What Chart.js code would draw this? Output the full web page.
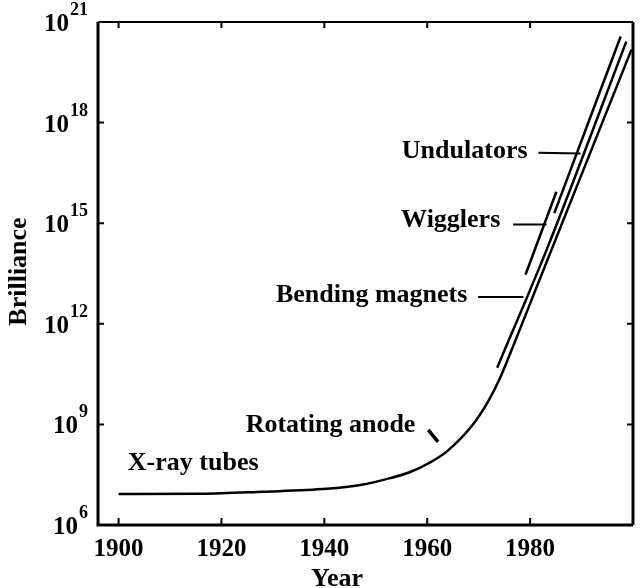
<!DOCTYPE html>
<html>
<head>
<meta charset="utf-8">
<script src="https://cdn.jsdelivr.net/npm/chart.js@4/dist/chart.umd.min.js"></script>
<style>
  html, body { margin: 0; padding: 0; background: #fff; }
  #wrap { width: 640px; height: 588px; position: relative; }
</style>
</head>
<body>
<div id="wrap"><canvas id="chart"></canvas></div>
<script>
// ===============================
// DATA
// ===============================
const xTicks = [1900, 1920, 1940, 1960, 1980];
const yTickValues = [1e6, 1e9, 1e12, 1e15, 1e18, 1e21];
const yTickExps = ['6', '9', '12', '15', '18', '21'];

// x-ray tubes -> rotating anode -> synchrotron curve
const mainYears = [1900, 1916, 1928, 1940.4, 1947, 1952.8, 1956.7, 1960, 1963.9, 1969, 1971.9, 1974.2, 1976.5, 1981, 1999.7];
const mainBrill = [8.4e6, 8.5e6, 9.8e6, 1.2e7, 1.56e7, 2.5e7, 3.8e7, 6.6e7, 1.6e8, 1.04e9, 5e9, 2.5e10, 1.8e11, 9.8e12, 1.5e20];

const bendYears = [1973.6, 1983.2, 1998.7];
const bendBrill = [4.9e10, 1.6e14, 2.6e20];

const wigYears = [1979.1, 1985.1];
const wigBrill = [2.9e13, 8.7e15];

const undYears = [1984.7, 1997.6];
const undBrill = [2e15, 3.7e20];

const anodeYears = [1960.2, 1962.1];
const anodeBrill = [6.9e8, 3e8];

// leader lines from the labels
const undLeaderYears = [1981.6, 1989.8];
const undLeaderBrill = [1.26e17, 1.2e17];
const wigLeaderYears = [1976.7, 1983.2];
const wigLeaderBrill = [9.1e14, 9.1e14];
const bendLeaderYears = [1969.9, 1978.7];
const bendLeaderBrill = [6.3e12, 6.3e12];

// text labels: name, anchor year, anchor brilliance, alignment
const labelNames = ['Undulators', 'Wigglers', 'Bending magnets', 'Rotating anode', 'X-ray tubes'];
const labelYears = [1979.5, 1974.2, 1967.8, 1957.7, 1901.8];
const labelBrill = [1.4e17, 1.26e15, 6.9e12, 9.1e8, 7.1e7];
const labelAlign = ['right', 'right', 'right', 'right', 'left'];

const FONT = '"Liberation Serif", "Times New Roman", serif';

function pts(xs, ys) {
    return xs.map((x, i) => ({ x: x, y: ys[i] }));
}

function lineSet(xs, ys, width, smooth) {
    return {
        data: pts(xs, ys),
        showLine: true,
        borderColor: '#000',
        borderWidth: width,
        pointRadius: 0,
        cubicInterpolationMode: smooth ? 'monotone' : 'default',
        tension: 0,
        borderCapStyle: 'butt'
    };
}

// ===============================
// FRAME, TICKS AND TEXT
// ===============================
const framePlugin = {
    id: 'frame',
    afterDraw(chart) {
        const ctx = chart.ctx;
        const a = chart.chartArea;
        const xs = chart.scales.x;
        const ys = chart.scales.y;

        ctx.save();
        ctx.strokeStyle = '#000';
        ctx.fillStyle = '#000';

        // box
        ctx.lineWidth = 3;
        ctx.beginPath();
        ctx.moveTo(a.left, a.top);
        ctx.lineTo(a.left, a.bottom);
        ctx.lineTo(a.right, a.bottom);
        ctx.stroke();
        ctx.lineWidth = 2;
        ctx.beginPath();
        ctx.moveTo(a.left, a.top);
        ctx.lineTo(a.right, a.top);
        ctx.stroke();
        ctx.lineWidth = 3;
        ctx.beginPath();
        ctx.moveTo(a.right, a.top);
        ctx.lineTo(a.right, a.bottom);
        ctx.stroke();

        // inward ticks
        ctx.lineWidth = 2;
        xTicks.forEach(v => {
            const px = xs.getPixelForValue(v);
            ctx.beginPath();
            ctx.moveTo(px, a.bottom);
            ctx.lineTo(px, a.bottom - 7);
            ctx.moveTo(px, a.top);
            ctx.lineTo(px, a.top + 6);
            ctx.stroke();
        });
        yTickValues.slice(1, -1).forEach(v => {
            const py = ys.getPixelForValue(v);
            ctx.beginPath();
            ctx.moveTo(a.left, py);
            ctx.lineTo(a.left + 6, py);
            ctx.moveTo(a.right, py);
            ctx.lineTo(a.right - 6, py);
            ctx.stroke();
        });

        // x tick labels
        ctx.font = 'bold 25px ' + FONT;
        ctx.textAlign = 'center';
        ctx.textBaseline = 'alphabetic';
        xTicks.forEach(v => {
            ctx.fillText(String(v), xs.getPixelForValue(v), a.bottom + 31);
        });

        // y tick labels 10^n
        yTickValues.forEach((v, i) => {
            const py = ys.getPixelForValue(v);
            const right = a.left - 10;
            ctx.font = 'bold 18px ' + FONT;
            ctx.textAlign = 'right';
            ctx.fillText(yTickExps[i], right, py - 7);
            const w = ctx.measureText(yTickExps[i]).width;
            ctx.font = 'bold 25px ' + FONT;
            ctx.fillText('10', right - w - 1, py + 9);
        });

        // axis titles
        ctx.font = 'bold 26px ' + FONT;
        ctx.textAlign = 'center';
        ctx.fillText('Year', 337, a.bottom + 61);
        ctx.save();
        ctx.translate(26, (a.top + a.bottom) / 2 - 2);
        ctx.rotate(-Math.PI / 2);
        ctx.fillText('Brilliance', 0, 0);
        ctx.restore();

        // curve labels
        ctx.font = 'bold 26px ' + FONT;
        ctx.textBaseline = 'middle';
        labelNames.forEach((name, i) => {
            ctx.textAlign = labelAlign[i];
            ctx.fillText(name, xs.getPixelForValue(labelYears[i]), ys.getPixelForValue(labelBrill[i]));
        });

        ctx.restore();
    }
};

// ===============================
// INIT CHART
// ===============================
function initChart() {
    const ctx = document.getElementById('chart').getContext('2d');

    new Chart(ctx, {
        type: 'scatter',
        data: {
            datasets: [
                lineSet(mainYears, mainBrill, 2.5, true),
                lineSet(bendYears, bendBrill, 2.5, true),
                lineSet(wigYears, wigBrill, 2.5),
                lineSet(undYears, undBrill, 2.5),
                lineSet(anodeYears, anodeBrill, 3.5),
                lineSet(undLeaderYears, undLeaderBrill, 2),
                lineSet(wigLeaderYears, wigLeaderBrill, 2),
                lineSet(bendLeaderYears, bendLeaderBrill, 2)
            ]
        },
        options: {
            responsive: true,
            maintainAspectRatio: false,
            animation: false,
            layout: {
                padding: { left: 98, top: 22, right: 7, bottom: 63 }
            },
            plugins: {
                legend: { display: false },
                tooltip: { enabled: false }
            },
            scales: {
                x: { type: 'linear', min: 1896, max: 2000, display: false },
                y: { type: 'logarithmic', min: 1e6, max: 1e21, display: false }
            }
        },
        plugins: [framePlugin]
    });
}

document.addEventListener('DOMContentLoaded', initChart);
</script>
</body>
</html>
